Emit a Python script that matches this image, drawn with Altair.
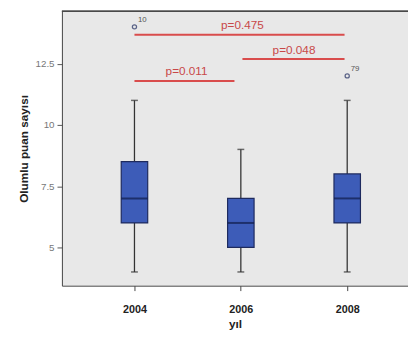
import altair as alt
import pandas as pd

years = [2004, 2006, 2008]
whisker_low = [4, 4, 4]
q1 = [6, 5, 6]
median = [7, 6, 7]
q3 = [8.5, 7, 8]
whisker_high = [11, 9, 11]

out_year = [2004, 2008]
out_value = [14, 12]
out_label = ["10", "79"]

p_text = ["p=0.475", "p=0.048", "p=0.011"]
p_x1 = [2004, 2006.03, 2004]
p_x2 = [2007.95, 2007.95, 2005.88]
p_y = [13.68, 12.69, 11.79]
p_tx = [2006.03, 2007.0, 2004.98]
p_ty = [14.08, 13.05, 12.19]

boxes = pd.DataFrame({"year": years, "low": whisker_low, "q1": q1,
                      "median": median, "q3": q3, "high": whisker_high})
outs = pd.DataFrame({"year": out_year, "value": out_value, "label": out_label})
pv = pd.DataFrame({"text": p_text, "x1": p_x1, "x2": p_x2, "y": p_y,
                   "tx": p_tx, "ty": p_ty})

W, H = 353, 280
xs = alt.Scale(domain=[2002.636, 2009.143], nice=False, zero=False, padding=0)
ys = alt.Scale(domain=[3.44, 14.64], nice=False, zero=False, padding=0)

xax = alt.Axis(values=years, format="d", title="yıl", grid=False,
               labelFontWeight="bold", labelFontSize=11, labelColor="#222",
               labelFont="Liberation Sans", tickSize=5, tickColor="#444",
               domainColor="#444", labelPadding=13,
               titleFont="Liberation Sans", titleFontSize=12,
               titleFontWeight="bold", titleColor="#222", titlePadding=5)
yax = alt.Axis(values=[5, 7.5, 10, 12.5], labelExpr="'' + datum.value",
               title="Olumlu puan sayısı", grid=False,
               labelFontSize=10, labelColor="#777", labelFont="Liberation Sans",
               tickSize=5, tickColor="#555", domainColor="#444", labelPadding=3,
               titleFont="Liberation Sans", titleFontSize=12,
               titleFontWeight="bold", titleColor="#222", titlePadding=5)

base = alt.Chart(boxes)
X = alt.X("year:Q", scale=xs, axis=xax)

whisk = base.mark_rule(color="#333", strokeWidth=1.3).encode(
    x=X, y=alt.Y("low:Q", scale=ys, axis=yax), y2="high:Q")
caps_lo = base.mark_tick(color="#333", size=7, thickness=1.5,
                         orient="horizontal").encode(
    x=X, y=alt.Y("low:Q", scale=ys))
caps_hi = base.mark_tick(color="#333", size=7, thickness=1.5,
                         orient="horizontal").encode(
    x=X, y=alt.Y("high:Q", scale=ys))
box = base.mark_bar(size=27, color="#3d5cb8", stroke="#1e2a5e",
                    strokeWidth=1.2).encode(
    x=X, y=alt.Y("q1:Q", scale=ys), y2="q3:Q")
med = base.mark_tick(color="#101c4a", size=27, thickness=2,
                     orient="horizontal").encode(
    x=X, y=alt.Y("median:Q", scale=ys))

ob = alt.Chart(outs)
opts = ob.mark_point(shape="circle", filled=False, size=18, color="#1e2a5e",
                     strokeWidth=1.3).encode(
    x=alt.X("year:Q", scale=xs), y=alt.Y("value:Q", scale=ys))
olab = ob.mark_text(fontSize=8, color="#555", dx=8, dy=-7,
                    font="Liberation Sans").encode(
    x=alt.X("year:Q", scale=xs), y=alt.Y("value:Q", scale=ys), text="label:N")

pb = alt.Chart(pv)
prule = pb.mark_rule(color="#d94c4c", strokeWidth=2).encode(
    x=alt.X("x1:Q", scale=xs), x2="x2:Q", y=alt.Y("y:Q", scale=ys))
ptext = pb.mark_text(color="#c84848", fontSize=12,
                     font="Liberation Sans").encode(
    x=alt.X("tx:Q", scale=xs), y=alt.Y("ty:Q", scale=ys), text="text:N")

top = alt.Chart(boxes).mark_rule(color="#444", strokeWidth=1).encode(
    x=alt.value(0), x2=alt.value(W), y=alt.value(0))

chart = alt.layer(whisk, caps_lo, caps_hi, box, med, opts, olab,
                  prule, ptext, top).properties(
    width=W, height=H,
    autosize=alt.AutoSizeParams(type="none"),
    padding={"top": 0, "left": 55, "right": 0, "bottom": 44},
    background="white",
).configure_view(fill="#e8e8e8", strokeWidth=0)

chart.save("out.html", embed_options={"renderer": "svg", "actions": False})
